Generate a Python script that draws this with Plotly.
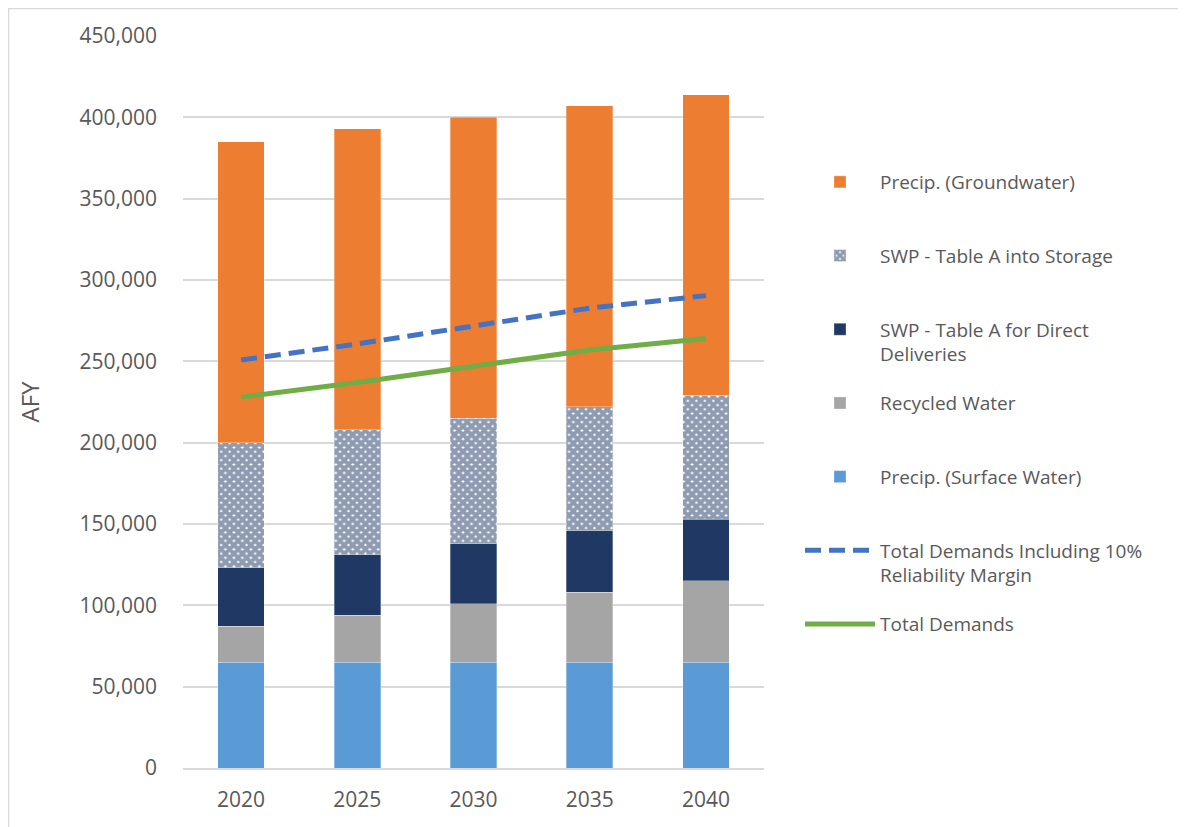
import plotly.graph_objects as go

years = ["2020", "2025", "2030", "2035", "2040"]
surface_water = [65000, 65000, 65000, 65000, 65000]
recycled_water = [22000, 29000, 36000, 43000, 50000]
swp_direct = [36000, 37000, 37000, 38000, 38000]
swp_storage = [77000, 77000, 77000, 76000, 76000]
groundwater = [185000, 185000, 185000, 185000, 185000]
total_demands = [228000, 237000, 247000, 257000, 264000]
total_with_margin = [250800, 260700, 271700, 282700, 290400]

FONT = "Open Sans"
TXT = "#595959"
GRID = "#D9D9D9"

fig = go.Figure()

def bar(name, vals, color, rank, pattern=None):
    m = dict(color=color, line=dict(color="rgba(255,255,255,0.5)", width=0.6))
    if pattern:
        m["pattern"] = pattern
    fig.add_trace(go.Bar(x=years, y=vals, name=name, marker=m, legendrank=rank,
                         legendgroup="g%d" % rank, width=0.4))

bar("Precip. (Surface Water)<br> ", surface_water, "#5B9BD5", 5)
bar("Recycled Water<br> ", recycled_water, "#A5A5A5", 4)
bar("SWP - Table A for Direct<br>Deliveries", swp_direct, "#203864", 3)
bar("SWP - Table A into Storage<br> ", swp_storage, "white", 2,
    pattern=dict(shape="x", fgcolor="#203864", bgcolor="white", size=6, solidity=0.88))
bar("Precip. (Groundwater)<br> ", groundwater, "#ED7D31", 1)

fig.add_trace(go.Scatter(x=years, y=total_with_margin, mode="lines",
                         name="Total Demands Including 10%<br>Reliability Margin",
                         line=dict(color="#4472C4", width=5, dash="16px,8px"),
                         legendrank=6, legendgroup="g6"))
fig.add_trace(go.Scatter(x=years, y=total_demands, mode="lines",
                         name="Total Demands<br> ",
                         line=dict(color="#70AD47", width=5),
                         legendrank=7, legendgroup="g7"))

# page offset of 8px (body margin)
OFF = 8
L, R, T, B = 183 - OFF, 764 - OFF, 36 - OFF, 768 - OFF
W, H = 1186 - OFF, 827 - OFF

def px_x(p):
    return (p - OFF - L) / (R - L)

def px_y(p):
    return (B - (p - OFF)) / (B - T)

fig.update_layout(
    width=W, height=H,
    margin=dict(l=L, r=W - R, t=T, b=H - B),
    barmode="stack",
    bargap=0.6,
    plot_bgcolor="white", paper_bgcolor="white",
    font=dict(family=FONT, size=19, color=TXT),
    legend=dict(
        x=px_x(800), y=px_y(163), xanchor="left", yanchor="top",
        traceorder="grouped", valign="top", itemwidth=70,
        tracegroupgap=21.3, font=dict(family=FONT, size=19, color=TXT),
        bgcolor="rgba(0,0,0,0)",
    ),
    xaxis=dict(
        showgrid=False, showline=True, linecolor=GRID, linewidth=2,
        ticks="", ticklabelstandoff=12,
        tickfont=dict(family=FONT, size=21, color=TXT),
    ),
    yaxis=dict(
        range=[0, 450000], dtick=50000, tickformat=",",
        showgrid=True, gridcolor=GRID, gridwidth=1.5,
        zeroline=False, ticks="", ticklabelstandoff=25,
        tickfont=dict(family=FONT, size=21, color=TXT),
        title=dict(text="AFY", font=dict(family=FONT, size=24, color=TXT), standoff=33),
    ),
    shapes=[dict(type="rect", xref="paper", yref="paper",
                 x0=px_x(8.5), x1=px_x(1200), y0=px_y(840), y1=px_y(8.5),
                 line=dict(color=GRID, width=1.5), fillcolor="rgba(0,0,0,0)", layer="below")],
)

fig.write_html("out.html")
